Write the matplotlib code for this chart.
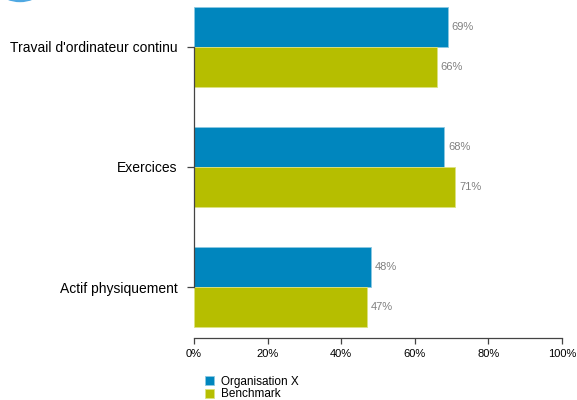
import matplotlib
matplotlib.use("Agg")
import matplotlib.pyplot as plt
from matplotlib.patches import Circle

plt.rcParams["font.family"] = ["Liberation Sans", "DejaVu Sans"]

categories = ["Travail d'ordinateur continu", "Exercices", "Actif physiquement"]
org_x = [0.69, 0.68, 0.48]
benchmark = [0.66, 0.71, 0.47]
series_names = ["Organisation X", "Benchmark"]
x_ticks = [0, 0.2, 0.4, 0.6, 0.8, 1.0]
x_tick_labels = ["0%", "20%", "40%", "60%", "80%", "100%"]

BLUE = "#0086BE"
GREEN = "#B6BE00"

fig = plt.figure(figsize=(5.77, 4.0), dpi=100)
ax = fig.add_axes([194 / 577, 1 - 338 / 400, 368 / 577, 338 / 400])

h = 1 / 3
pos = list(range(len(categories)))
b1 = ax.barh([p - h / 2 for p in pos], org_x, height=h, color=BLUE,
             edgecolor="#8CC8E2", linewidth=0.6, label=series_names[0])
b2 = ax.barh([p + h / 2 for p in pos], benchmark, height=h, color=GREEN,
             edgecolor="#DDE27F", linewidth=0.6, label=series_names[1])

for bars, vals in ((b1, org_x), (b2, benchmark)):
    for bar, v in zip(bars, vals):
        ax.text(v + 0.01, bar.get_y() + bar.get_height() / 2, f"{v:.0%}",
                va="center", ha="left", fontsize=8, color="#808080")

ax.set_xlim(0, 1)
ax.set_ylim(2 + 51 / 120, -47 / 120)
ax.set_yticks(pos)
ax.set_yticklabels(categories, fontsize=10)
ax.set_xticks(x_ticks)
ax.set_xticklabels(x_tick_labels, fontsize=8)

for s in ("top", "right"):
    ax.spines[s].set_visible(False)
ax.spines["left"].set_bounds(0, 2)
ax.spines["bottom"].set_bounds(0, 1)
for s in ("left", "bottom"):
    ax.spines[s].set_color("#444444")
    ax.spines[s].set_linewidth(0.9)
ax.tick_params(axis="y", length=5, width=0.9, color="#444444", pad=7)
ax.tick_params(axis="x", length=4, width=0.9, color="#444444", pad=4)

fig.legend(handles=[b1, b2], labels=series_names, loc="upper left",
           bbox_to_anchor=(199 / 577, 1 - 370 / 400), frameon=False,
           fontsize=8.5, handlelength=0.8, handleheight=0.8,
           handletextpad=0.6, labelspacing=0.05, borderpad=0)

# logo edge peeking in at the top-left corner
fig.patches.append(Circle((20, 432.5), 34, transform=None, color="#4FA8E2",
                          zorder=0))

fig.savefig("out.png", dpi=100)
